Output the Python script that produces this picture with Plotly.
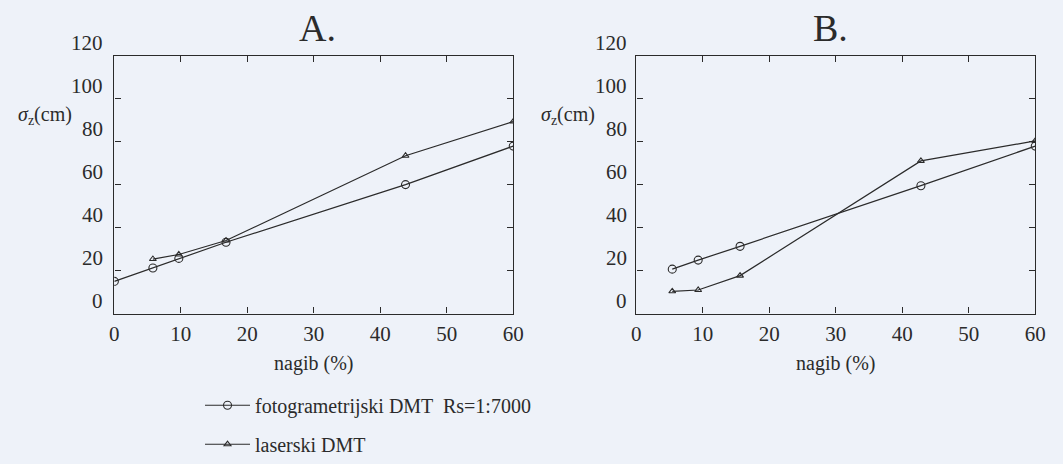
import plotly.graph_objects as go

# ---- data ----
a_foto_x = [0, 5.8, 9.7, 16.8, 43.8, 60]
a_foto_y = [15.0, 21.2, 25.7, 33.2, 60.0, 77.9]
a_laser_x = [5.8, 9.7, 16.8, 43.8, 60]
a_laser_y = [25.4, 27.5, 34.0, 73.4, 89.3]

b_foto_x = [5.4, 9.3, 15.6, 42.8, 60]
b_foto_y = [20.7, 24.9, 31.3, 59.5, 77.9]
b_laser_x = [5.4, 9.3, 15.6, 42.8, 60]
b_laser_y = [10.4, 11.0, 17.7, 71.0, 80.3]

y_tick_vals = [0, 20, 40, 60, 80, 100, 120]
y_tick_labels = ["0", "20", "40", "60", "80", "100", "120"]
x_tick_vals = [0, 10, 20, 30, 40, 50, 60]
x_tick_labels = ["0", "10", "20", "30", "40", "50", "60"]

series_names = ["fotogrametrijski DMT  Rs=1:7000", "laserski DMT"]
panel_titles = ["A.", "B."]
x_title = "nagib (%)"
y_title = "<i>σ</i><sub>z</sub>(cm)"

# ---- style ----
W, H = 1063, 464
BG = "#eef2f9"
INK = "#2b2b2b"
FONT = "Liberation Serif, Times New Roman, serif"
Y_MAX = 120
LABEL_LIFT = 6  # tick labels are printed slightly above their tick marks in the original


def px_x(p):
    return p / W


def px_y(p):
    return 1 - p / H


fig = go.Figure()

line_style = dict(color=INK, width=1.2)
circ = dict(symbol="circle-open", size=8, color=INK, line=dict(width=1.1, color=INK))
tri = dict(symbol="triangle-up-open", size=6, color=INK, line=dict(width=1.1, color=INK))

fig.add_trace(go.Scatter(x=a_foto_x, y=a_foto_y, mode="lines+markers", line=line_style,
                         marker=circ, name=series_names[0], legendgroup="g1",
                         xaxis="x", yaxis="y"))
fig.add_trace(go.Scatter(x=a_laser_x, y=a_laser_y, mode="lines+markers", line=line_style,
                         marker=tri, name=series_names[1], legendgroup="g2",
                         xaxis="x", yaxis="y"))
fig.add_trace(go.Scatter(x=b_foto_x, y=b_foto_y, mode="lines+markers", line=line_style,
                         marker=circ, name=series_names[0], showlegend=False,
                         xaxis="x2", yaxis="y2"))
fig.add_trace(go.Scatter(x=b_laser_x, y=b_laser_y, mode="lines+markers", line=line_style,
                         marker=tri, name=series_names[1], showlegend=False,
                         xaxis="x2", yaxis="y2"))

ydom = [px_y(322), px_y(57)]
xdomA = [px_x(111), px_x(516)]
xdomB = [px_x(641), px_x(1046)]


def xaxis_cfg(dom, anchor):
    return dict(domain=dom, anchor=anchor, range=[0, 60], tickvals=x_tick_vals,
                ticktext=x_tick_labels, ticks="inside", ticklen=6, tickcolor=INK,
                tickwidth=1.2, showline=True, linecolor=INK, linewidth=1.4,
                mirror="ticks", showgrid=False, zeroline=False,
                tickfont=dict(family=FONT, size=21, color=INK), ticklabelstandoff=1,
                title=dict(text=x_title, font=dict(family=FONT, size=20, color=INK), standoff=10))


def yaxis_cfg(anchor):
    return dict(domain=ydom, anchor=anchor, range=[0, Y_MAX], tickvals=y_tick_vals,
                showticklabels=False, ticks="inside", ticklen=6, tickcolor=INK,
                tickwidth=1.2, showline=True, linecolor=INK, linewidth=1.4,
                mirror="ticks", showgrid=False, zeroline=False)


fig.update_layout(
    width=W, height=H, autosize=False,
    margin=dict(l=0, r=0, t=0, b=0, pad=0),
    paper_bgcolor=BG, plot_bgcolor=BG,
    font=dict(family=FONT, color=INK),
    xaxis=xaxis_cfg(xdomA, "y"), yaxis=yaxis_cfg("x"),
    xaxis2=xaxis_cfg(xdomB, "y2"), yaxis2=yaxis_cfg("x2"),
    legend=dict(x=px_x(198), y=px_y(396), xanchor="left", yanchor="top",
                bgcolor="rgba(0,0,0,0)", font=dict(family=FONT, size=20, color=INK),
                tracegroupgap=10, itemwidth=45),
)

annotations = []
# y tick labels, positioned from their values on the 0..Y_MAX scale of each panel
for dom_left, shift in ((xdomA[0], -9), (xdomB[0], -7)):
    for v, t in zip(y_tick_vals, y_tick_labels):
        yp = ydom[0] + (v + LABEL_LIFT) / Y_MAX * (ydom[1] - ydom[0])
        annotations.append(dict(x=dom_left, y=yp, xref="paper", yref="paper", text=t,
                                showarrow=False, xanchor="right", yanchor="middle",
                                xshift=shift, font=dict(family=FONT, size=21, color=INK)))
# y axis titles
for cx in (41, 572):
    annotations.append(dict(x=px_x(cx), y=px_y(119), xref="paper", yref="paper", text=y_title,
                            showarrow=False, xanchor="center", yanchor="middle",
                            font=dict(family=FONT, size=20, color=INK)))
# panel titles
for cx, t in ((317, panel_titles[0]), (838, panel_titles[1])):
    annotations.append(dict(x=px_x(cx), y=px_y(29), xref="paper", yref="paper", text=t,
                            showarrow=False, xanchor="center", yanchor="middle",
                            font=dict(family=FONT, size=38, color=INK)))
fig.update_layout(annotations=annotations)

fig.write_html("out.html", config={"displayModeBar": False},
               post_script="document.body.style.margin='0';document.body.style.overflow='hidden';")
